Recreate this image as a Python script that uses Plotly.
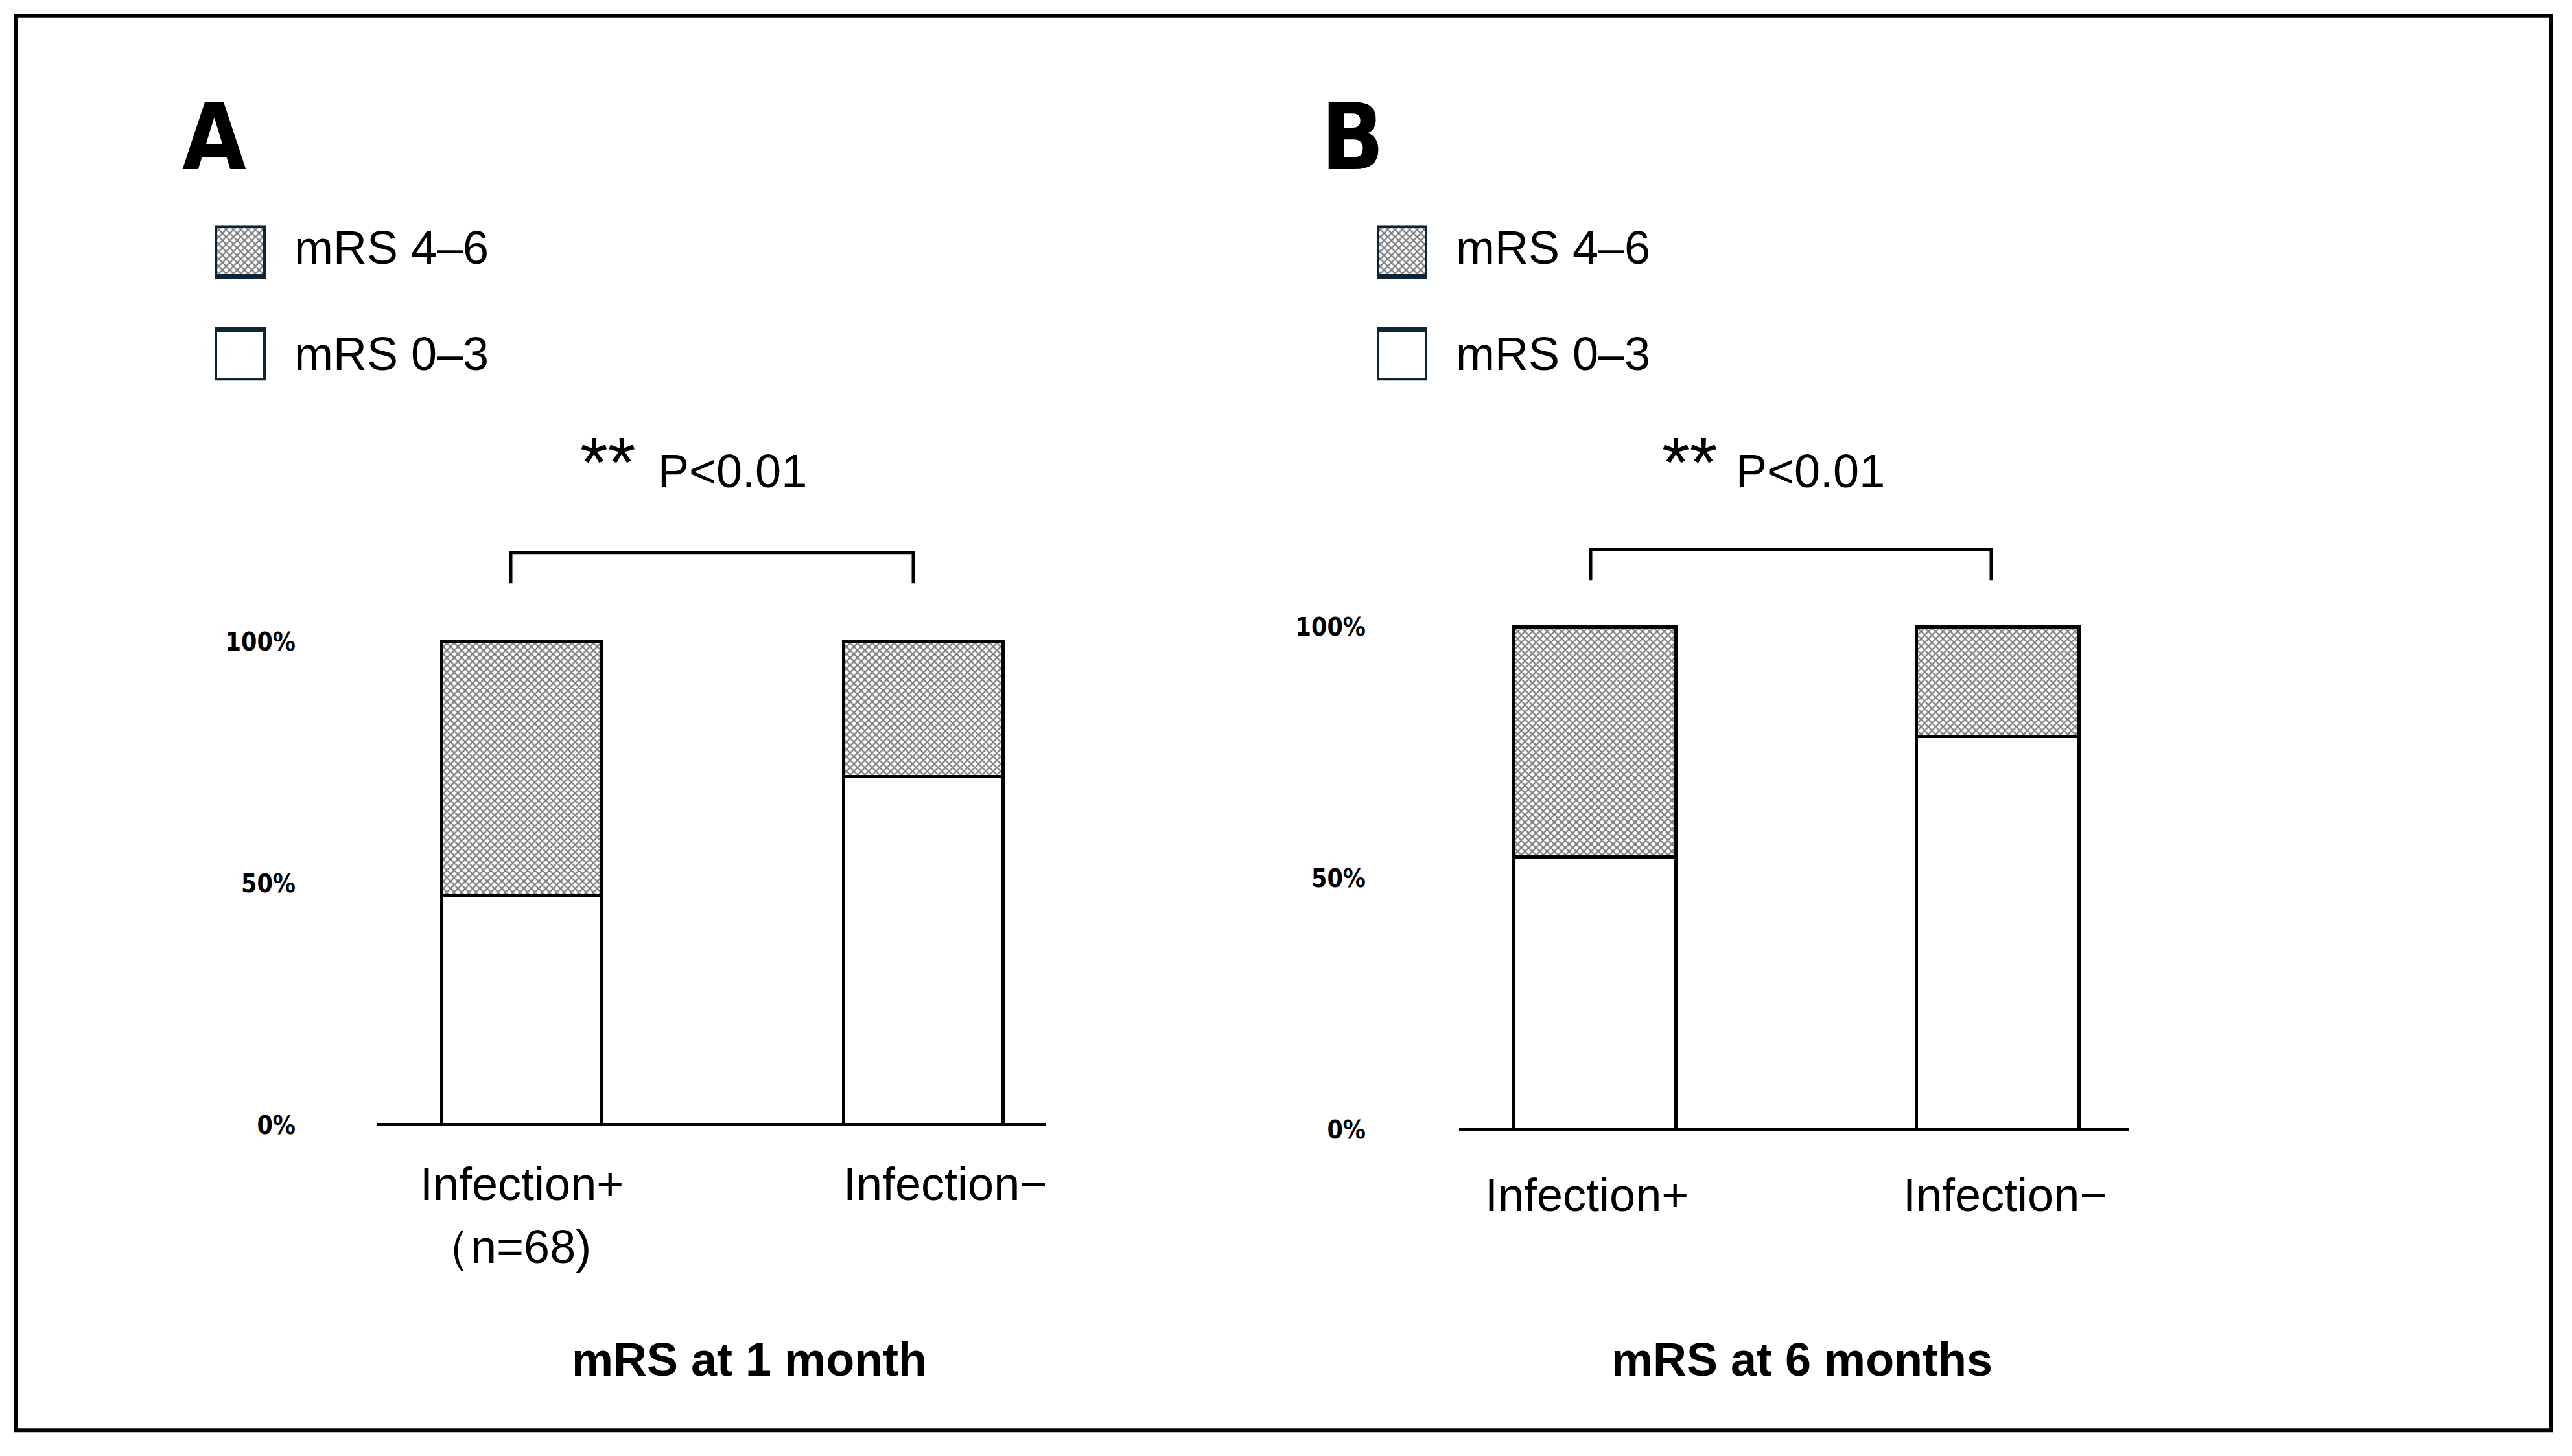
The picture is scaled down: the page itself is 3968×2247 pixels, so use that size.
import plotly.graph_objects as go

# --- DATOS ---
CATEGORIES = ["Infection+", "Infection−"]
SERIES = ["mRS 4–6", "mRS 0–3"]

# porcentajes (mRS 0–3 abajo, mRS 4–6 arriba)
MRS03_1M = [47.3, 71.9]
MRS46_1M = [52.7, 28.1]
MRS03_6M = [54.2, 78.2]
MRS46_6M = [45.8, 21.8]

TICK_VALS = [0, 50, 100]
TICK_TEXT = ["0%", "50%", "100%"]
XLABELS_1M = ["Infection+", "Infection−"]
N_LABEL = "（n=68)"
XLABELS_6M = ["Infection+", "Infection−"]
TITLES = ["mRS at 1 month", "mRS at 6 months"]
PANELS = ["A", "B"]
P_TEXT = "P<0.01"
STARS = "**"

# --- CONFIG ---
W, H = 3968, 2247
FONT = "Arial, Liberation Sans, sans-serif"
NARROW = "Liberation Sans Narrow, Arial Narrow, DejaVu Sans Condensed, Liberation Sans"
EDGE = "black"
NAVY = "#0d2535"
PATTERN = dict(shape="x", size=8, solidity=0.5, fgcolor="black", bgcolor="white")


def px(x):
    return x / W


def py(y):
    return 1 - y / H


fig = go.Figure()

# --- BARRAS APILADAS ---
for xa, ya, lo, hi, w in [("x", "y", MRS03_1M, MRS46_1M, 0.398),
                          ("x2", "y2", MRS03_6M, MRS46_6M, 0.4035)]:
    fig.add_trace(go.Bar(x=[0, 1], y=lo, width=w, name=SERIES[1], xaxis=xa, yaxis=ya,
                         marker=dict(color="white", line=dict(color=EDGE, width=5)),
                         cliponaxis=False, showlegend=False))
    fig.add_trace(go.Bar(x=[0, 1], y=hi, width=w, name=SERIES[0], xaxis=xa, yaxis=ya,
                         marker=dict(color="white", pattern=PATTERN, line=dict(color=EDGE, width=5)),
                         cliponaxis=False, showlegend=False))

# --- LEYENDAS (cuadros dibujados como barras en ejes propios) ---
for xa, ya in [("x3", "y3"), ("x4", "y4")]:
    fig.add_trace(go.Bar(y=[1], x=[1], orientation="h", width=0.488, xaxis=xa, yaxis=ya,
                         marker=dict(color="white", pattern=PATTERN, line=dict(color=NAVY, width=7)),
                         cliponaxis=False, showlegend=False))
    fig.add_trace(go.Bar(y=[0], x=[1], orientation="h", width=0.488, xaxis=xa, yaxis=ya,
                         marker=dict(color="white", line=dict(color=NAVY, width=7)),
                         cliponaxis=False, showlegend=False))

hidden = dict(visible=False, fixedrange=True)
xcommon = dict(showline=False, showticklabels=False, showgrid=False, zeroline=False,
               ticks="", fixedrange=True)
ycommon = dict(range=[-1, 102], tickvals=TICK_VALS, ticktext=TICK_TEXT, showgrid=False,
               zeroline=True, zerolinecolor="black", zerolinewidth=5,
               showline=False, ticks="", fixedrange=True,
               tickfont=dict(family=NARROW, size=39, color="black", weight="bold"))

# px por unidad: A 7.53, B 7.84
fig.update_layout(
    width=W, height=H,
    margin=dict(l=0, r=0, t=0, b=0),
    paper_bgcolor="white", plot_bgcolor="white",
    barmode="stack", bargap=0,
    showlegend=False,
    font=dict(family=FONT, color="black"),
    xaxis=dict(domain=[px(582), px(1614)], range=[-0.36, 1.305], **xcommon),
    yaxis=dict(domain=[py(1746 + 7.53), py(1746 - 102 * 7.53)], ticklabelstandoff=125, **ycommon),
    xaxis2=dict(domain=[px(2251), px(3285)], range=[-0.336, 1.326], anchor="y2", **xcommon),
    yaxis2=dict(domain=[py(1754 + 7.84), py(1754 - 102 * 7.84)], anchor="x2",
                ticklabelstandoff=143, **ycommon),
    xaxis3=dict(domain=[px(332), px(410)], range=[0, 1], anchor="y3", **hidden),
    yaxis3=dict(domain=[py(586), py(345)], range=[-0.244, 1.244], anchor="x3", **hidden),
    xaxis4=dict(domain=[px(2124), px(2202)], range=[0, 1], anchor="y4", **hidden),
    yaxis4=dict(domain=[py(586), py(345)], range=[-0.244, 1.244], anchor="x4", **hidden),
)

ann = []
# letras de panel
for txt, cx in zip(PANELS, [330, 2086]):
    ann.append(dict(text=txt, x=px(cx), y=py(207), xref="paper", yref="paper", showarrow=False,
                    xanchor="center", yanchor="middle",
                    font=dict(family=NARROW, size=142, weight="bold")))
# textos de leyenda
for lx in [457, 2249]:
    for txt, cy in zip(SERIES, [379, 544]):
        ann.append(dict(text=txt, x=px(lx - 5), y=py(cy), xref="paper", yref="paper",
                        showarrow=False, xanchor="left", yanchor="middle", font=dict(size=72)))
# p-valor
for sx, pxl in [(938, 1013), (2607, 2676)]:
    ann.append(dict(text=STARS, x=px(sx), y=py(712), xref="paper", yref="paper", showarrow=False,
                    xanchor="center", yanchor="middle", font=dict(size=110)))
    ann.append(dict(text=P_TEXT, x=px(pxl), y=py(727), xref="paper", yref="paper", showarrow=False,
                    xanchor="left", yanchor="middle", font=dict(size=72)))
# etiquetas de categoría
ann.append(dict(text=XLABELS_1M[0], x=0, xref="x", y=py(1838), yref="paper", showarrow=False,
                xanchor="center", yanchor="middle", font=dict(size=72)))
ann.append(dict(text=N_LABEL, x=0, xref="x", xshift=-22, y=py(1936), yref="paper", showarrow=False,
                xanchor="center", yanchor="middle", font=dict(size=72)))
ann.append(dict(text=XLABELS_1M[1], x=1, xref="x", xshift=33, y=py(1838), yref="paper",
                showarrow=False, xanchor="center", yanchor="middle", font=dict(size=72)))
for i, sh in zip([0, 1], [-12, 11]):
    ann.append(dict(text=XLABELS_6M[i], x=i, xref="x2", xshift=sh, y=py(1855), yref="paper",
                    showarrow=False, xanchor="center", yanchor="middle", font=dict(size=72)))
# títulos inferiores
for txt, cx in zip(TITLES, [1156, 2780]):
    ann.append(dict(text=txt, x=px(cx), y=py(2112), xref="paper", yref="paper", showarrow=False,
                    xanchor="center", yanchor="middle", font=dict(size=72, weight="bold")))
fig.update_layout(annotations=ann)

# marco exterior y corchetes de significación
shapes = [dict(type="rect", xref="paper", yref="paper", x0=px(24), x1=px(3936), y0=py(18), y1=py(2222),
               line=dict(color="black", width=6))]
for x0, x1, ytop, ybot in [(788, 1409, 854, 902), (2454, 3072, 849, 897)]:
    shapes.append(dict(type="path", xref="paper", yref="paper",
                       path=f"M {px(x0)},{py(ybot)} L {px(x0)},{py(ytop)} L {px(x1)},{py(ytop)} L {px(x1)},{py(ybot)}",
                       line=dict(color="black", width=5)))
fig.update_layout(shapes=shapes)

fig.write_html("out.html", config={"displayModeBar": False},
               post_script="document.body.style.margin='0';")
